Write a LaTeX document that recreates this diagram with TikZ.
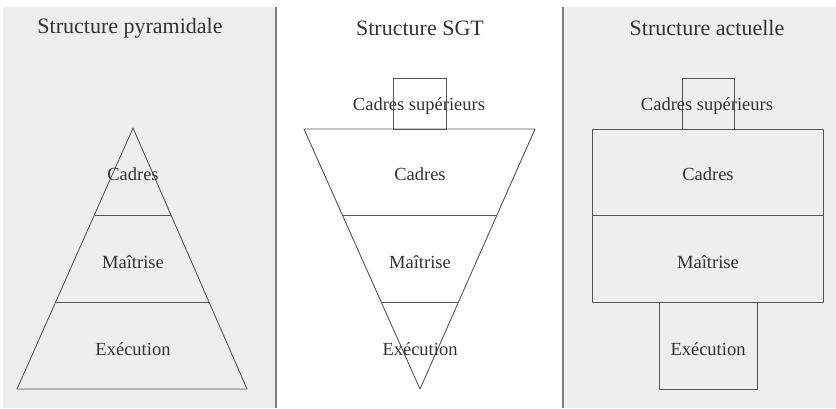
\documentclass[tikz,border=0pt]{standalone}
\usepackage{fontspec}
\setmainfont{Liberation Serif}
\definecolor{panelgray}{HTML}{EEEEEE}
\definecolor{linegray}{HTML}{555555}
\definecolor{divgray}{HTML}{808080}
\definecolor{txtgray}{HTML}{333333}
\begin{document}
\begin{tikzpicture}[x=1pt,y=-1pt,
  shape line/.style={draw=linegray,line width=0.9pt,line join=round},
  label text/.style={text=txtgray,font=\fontsize{18.5}{21}\selectfont,inner sep=0pt,anchor=center},
  title text/.style={text=txtgray,font=\fontsize{22}{25}\selectfont,inner sep=0pt,anchor=center},
  divider/.style={draw=divgray,line width=1.6pt}]
\useasboundingbox (0,0) rectangle (836,408);
\fill[white] (0,0) rectangle (836,408);
% panels
\fill[panelgray] (3,7) rectangle (276,408);
\fill[panelgray] (563,7) rectangle (836,408);
\draw[divider] (276,7) -- (276,408);
\draw[divider] (563,7) -- (563,408);

% titles
\node[title text] (t1) at (130,28) {Structure pyramidale};
\node[title text] (t2) at (420,28) {Structure SGT};
\node[title text] (t3) at (707,28) {Structure actuelle};

% pyramid
\draw[shape line] (133,128) -- (247,389) -- (17,389) -- cycle;
\draw[shape line] (95,215) -- (171,215);
\draw[shape line] (56,302) -- (209,302);
\node[label text] (p1) at (133,174) {Cadres};
\node[label text] (p2) at (133,262) {Maîtrise};
\node[label text] (p3) at (133,349) {Exécution};

% inverted triangle
\draw[shape line] (304,129) -- (535,129) -- (420,389) -- cycle;
\draw[shape line] (343,215) -- (497,215);
\draw[shape line] (381,302) -- (458,302);
\draw[shape line] (393,78) rectangle (446,129);
\node[label text] (s0) at (419,106) {Cadres supérieurs};
\node[label text] (s1) at (420,174) {Cadres};
\node[label text] (s2) at (420,262) {Maîtrise};
\node[label text] (s3) at (420,349) {Exécution};

% current structure
\draw[shape line] (682,78) rectangle (734,129);
\draw[shape line] (592,129) rectangle (823,302);
\draw[shape line] (592,215) -- (823,215);
\draw[shape line] (659,302) rectangle (757,389);
\node[label text] (a0) at (707,106) {Cadres supérieurs};
\node[label text] (a1) at (708,174) {Cadres};
\node[label text] (a2) at (708,262) {Maîtrise};
\node[label text] (a3) at (708,349) {Exécution};
\end{tikzpicture}
\end{document}
